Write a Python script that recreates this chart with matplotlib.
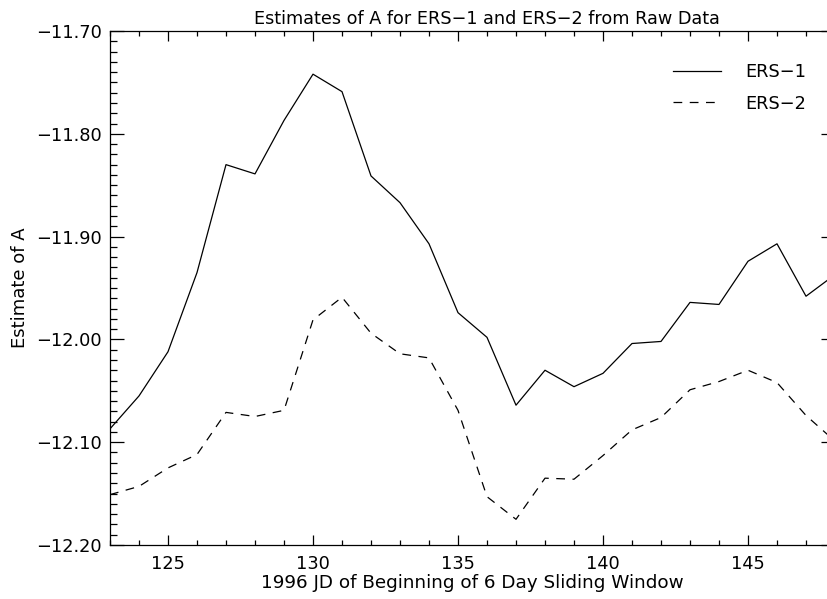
import matplotlib
matplotlib.use('Agg')
import matplotlib.pyplot as plt
from matplotlib.ticker import MultipleLocator, FuncFormatter

# start day of each 6 day window
days = list(range(123, 149))

# estimates of A, one per window
ers1 = [-12.087, -12.055, -12.012, -11.935, -11.830, -11.839, -11.787, -11.742,
        -11.759, -11.841, -11.867, -11.907, -11.974, -11.998, -12.064, -12.030,
        -12.046, -12.033, -12.004, -12.002, -11.964, -11.966, -11.924, -11.907,
        -11.958, -11.937]
ers2 = [-12.151, -12.143, -12.125, -12.112, -12.071, -12.075, -12.069, -11.981,
        -11.959, -11.994, -12.014, -12.018, -12.069, -12.153, -12.175, -12.135,
        -12.136, -12.113, -12.088, -12.076, -12.049, -12.041, -12.030, -12.042,
        -12.074, -12.099]

plt.rcParams['font.family'] = 'DejaVu Sans'

fig = plt.figure(figsize=(8.28, 5.99), dpi=100)
ax = fig.add_axes([110 / 828, 54 / 599, 725 / 828, 514 / 599])

ax.plot(days, ers1, color='black', lw=0.9, label='ERS-1')
ax.plot(days, ers2, color='black', lw=0.9, dashes=(7, 6), label='ERS-2')

ax.set_xlim(123, 148)
ax.set_ylim(-12.20, -11.70)

ax.xaxis.set_major_locator(MultipleLocator(5))
ax.xaxis.set_minor_locator(MultipleLocator(1))
ax.yaxis.set_major_locator(MultipleLocator(0.1))
ax.yaxis.set_minor_locator(MultipleLocator(0.01))
ax.yaxis.set_major_formatter(FuncFormatter(lambda v, p: ('%.2f' % v).replace('-', '\u2212')))

ax.tick_params(axis='both', which='both', direction='in', top=True, right=True,
               labelsize=12.8, width=0.9, color='black')
ax.tick_params(axis='y', which='major', length=10, pad=6)
ax.tick_params(axis='y', which='minor', length=5)
ax.tick_params(axis='x', which='major', length=7, pad=7)
ax.tick_params(axis='x', which='minor', length=3.6)
for s in ax.spines.values():
    s.set_linewidth(0.9)

ax.set_title('Estimates of A for ERS\u22121 and ERS\u22122 from Raw Data',
             fontsize=12.7, pad=5, x=0.52)
ax.set_xlabel('1996 JD of Beginning of 6 Day Sliding Window', fontsize=13.2, labelpad=1)
ax.set_ylabel('Estimate of A', fontsize=13, va='center')
ax.yaxis.set_label_coords(-0.124, 0.5)

leg = ax.legend(['ERS\u22121', 'ERS\u22122'], loc='upper right',
                bbox_to_anchor=(0.961, 0.937), frameon=False, fontsize=12.8,
                handlelength=2.7, handletextpad=1.4, labelspacing=0.75,
                borderpad=0, borderaxespad=0)

fig.savefig('out.png', dpi=100)
